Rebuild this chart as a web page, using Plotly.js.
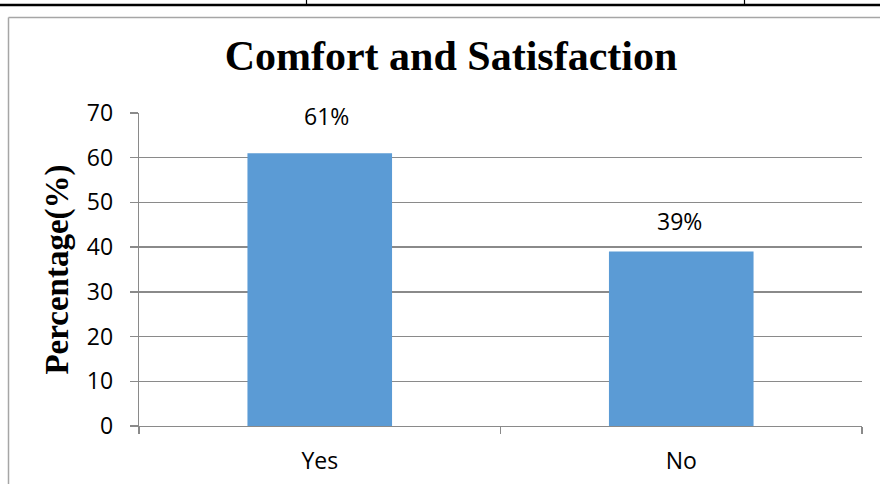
<!DOCTYPE html>
<html>
<head>
<meta charset="utf-8">
<script src="https://cdn.plot.ly/plotly-3.0.1.min.js"></script>
<style>
  html, body { margin: 0; padding: 0; background: #ffffff; }
  #chart { width: 880px; height: 484px; }
</style>
</head>
<body>
<div id="chart"></div>
<script>
// ---- data ----
const categories = ["Yes", "No"];
const percentages = [61, 39];
const valueLabels = ["61%", "39%"];
const yTickValues = [0, 10, 20, 30, 40, 50, 60, 70];
const chartTitle = "Comfort and Satisfaction";
const yAxisTitle = "Percentage(%)";

// ---- layout geometry (pixels) ----
const W = 880, H = 484;
const M = { l: 139, r: 18, t: 113, b: 58 };
const plotW = W - M.l - M.r, plotH = H - M.t - M.b;
const px = x => (x - M.l) / plotW;          // page px -> paper x
const py = y => (H - M.b - y) / plotH;      // page px -> paper y

const gridGray = "#8a8a8a";
const labelFont = { family: "Open Sans, Liberation Sans, sans-serif", size: 23, color: "#000000" };

const trace = {
  type: "bar",
  x: categories,
  y: percentages,
  marker: { color: "#5b9bd5", line: { width: 0 } },
  hoverinfo: "skip"
};

const labelShift = [37, 31];
const labelXShift = [7, -2];
const annotations = categories.map((c, i) => ({
  x: c, y: percentages[i], xref: "x", yref: "y",
  text: valueLabels[i], showarrow: false,
  xanchor: "center", yanchor: "middle",
  yshift: labelShift[i], xshift: labelXShift[i],
  font: labelFont
}));

const shapes = [
  // top black rule of the surrounding table
  { type: "line", xref: "paper", yref: "paper", x0: px(0), x1: px(W), y0: py(5), y1: py(5),
    line: { color: "#000000", width: 2.5 } },
  { type: "line", xref: "paper", yref: "paper", x0: px(306.5), x1: px(306.5), y0: py(0), y1: py(6),
    line: { color: "#000000", width: 1.2 } },
  { type: "line", xref: "paper", yref: "paper", x0: px(744.5), x1: px(744.5), y0: py(0), y1: py(6),
    line: { color: "#000000", width: 1.2 } },
  // chart frame (left + top edges visible)
  { type: "line", xref: "paper", yref: "paper", x0: px(8.5), x1: px(W + 5), y0: py(17.5), y1: py(17.5),
    line: { color: "#a6a6a6", width: 1.5 } },
  { type: "line", xref: "paper", yref: "paper", x0: px(8.5), x1: px(8.5), y0: py(17.5), y1: py(H + 5),
    line: { color: "#a6a6a6", width: 1.5 } }
];

const layout = {
  width: W, height: H,
  margin: M,
  paper_bgcolor: "#ffffff",
  plot_bgcolor: "#ffffff",
  showlegend: false,
  bargap: 0.6,
  title: {
    text: "<b>" + chartTitle + "</b>",
    font: { family: "Liberation Serif, Times New Roman, serif", size: 42, color: "#000000" },
    x: 451 / W, xref: "container", xanchor: "center",
    y: 1 - 55 / H, yref: "container", yanchor: "middle"
  },
  xaxis: {
    type: "category",
    showgrid: false,
    showline: true, linecolor: gridGray, linewidth: 1.3,
    ticks: "outside", tickson: "boundaries", ticklen: 7, tickcolor: gridGray, tickwidth: 1.3,
    tickfont: labelFont,
    ticklabelstandoff: 14,
    zeroline: false,
    fixedrange: true
  },
  yaxis: {
    range: [0, 70],
    tickvals: yTickValues,
    ticktext: yTickValues.map(String),
    showgrid: true, gridcolor: gridGray, gridwidth: 1.3,
    showline: true, linecolor: gridGray, linewidth: 1.3,
    ticks: "outside", ticklen: 8, tickcolor: gridGray, tickwidth: 1.3,
    tickfont: labelFont,
    ticklabelstandoff: 12,
    zeroline: false,
    automargin: false,
    title: {
      text: "<b>" + yAxisTitle + "</b>",
      font: { family: "Liberation Serif, Times New Roman, serif", size: 33, color: "#000000" },
      standoff: 8
    },
    fixedrange: true
  },
  annotations: annotations,
  shapes: shapes
};

Plotly.newPlot("chart", [trace], layout, { staticPlot: true, displayModeBar: false });
</script>
</body>
</html>
